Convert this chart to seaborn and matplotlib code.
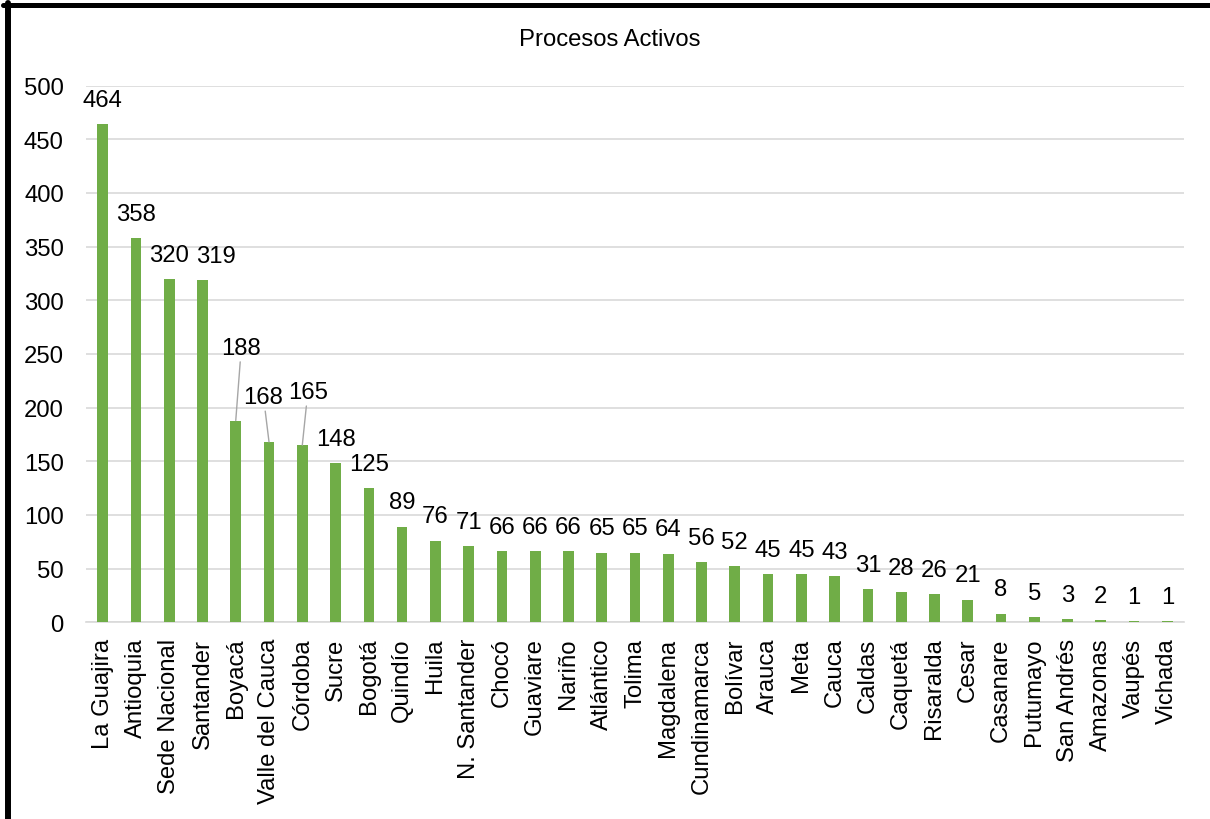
import pandas as pd
import seaborn as sns
import matplotlib.pyplot as plt
from matplotlib.lines import Line2D

# -----------------------------
# Data
# -----------------------------
departamentos = ["La Guajira", "Antioquia", "Sede Nacional", "Santander", "Boyacá",
                 "Valle del Cauca", "Córdoba", "Sucre", "Bogotá", "Quindío", "Huila",
                 "N. Santander", "Chocó", "Guaviare", "Nariño", "Atlántico", "Tolima",
                 "Magdalena", "Cundinamarca", "Bolívar", "Arauca", "Meta", "Cauca",
                 "Caldas", "Caquetá", "Risaralda", "Cesar", "Casanare", "Putumayo",
                 "San Andrés", "Amazonas", "Vaupés", "Vichada"]
procesos = [464, 358, 320, 319, 188, 168, 165, 148, 125, 89, 76, 71, 66, 66, 66, 65,
            65, 64, 56, 52, 45, 45, 43, 31, 28, 26, 21, 8, 5, 3, 2, 1, 1]
y_ticks = [0, 50, 100, 150, 200, 250, 300, 350, 400, 450, 500]

df = pd.DataFrame({"Departamento": departamentos, "Procesos": procesos})

# label offsets (points) for labels Excel moved away from the default spot
label_shift = {"Santander": (10, 0), "Boyacá": (4, -35), "Valle del Cauca": (-4, -15),
               "Córdoba": (4, -21)}
leader = {"Boyacá", "Valle del Cauca", "Córdoba"}

# -----------------------------
# Style
# -----------------------------
sns.set_style("white")
plt.rcParams["font.family"] = ["Liberation Sans", "DejaVu Sans"]
plt.rcParams["text.color"] = "black"
plt.rcParams["xtick.color"] = "black"
plt.rcParams["ytick.color"] = "black"
FS = 17.2
GREEN = "#70ad47"
GRID = "#d9d9d9"

fig = plt.figure(figsize=(12.1, 8.2), dpi=100)
ax = fig.add_axes([0.0711, 0.2399, 0.9074, 0.6544])

sns.barplot(data=df, x="Departamento", y="Procesos", color=GREEN, width=0.32,
            saturation=1, linewidth=0, ax=ax, zorder=3)

ax.set_ylim(0, 500)
ax.set_xlim(-0.5, len(departamentos) - 0.5)
ax.set_yticks(y_ticks)
ax.set_yticklabels([str(t) for t in y_ticks], fontsize=FS)
ax.set_xticks(range(len(departamentos)))
ax.set_xticklabels(departamentos, rotation=90, fontsize=FS)
ax.tick_params(axis="y", length=0, pad=16)
ax.tick_params(axis="x", length=0, pad=11)
ax.set_xlabel("")
ax.set_ylabel("")
ax.grid(axis="y", color=GRID, lw=1.2, zorder=0)
for s in ["top", "right", "left"]:
    ax.spines[s].set_visible(False)
ax.spines["bottom"].set_color(GRID)
ax.spines["bottom"].set_linewidth(1.2)
ax.spines["bottom"].set_zorder(1)

# data labels
for i, (name, val) in enumerate(zip(departamentos, procesos)):
    dx, dy = label_shift.get(name, (0, 0))
    props = None
    if name in leader:
        props = dict(arrowstyle="-", color="#a6a6a6", lw=1, shrinkA=0, shrinkB=0)
    ax.annotate(str(val), xy=(i, val), xytext=(dx, 17.5 - dy),
                textcoords="offset points", ha="center", va="center",
                fontsize=FS, arrowprops=props, zorder=4)

fig.text(0.504, 0.951, "Procesos Activos", ha="center", va="center", fontsize=FS)

# black frame (top and left edges of the cropped chart border)
fig.add_artist(Line2D([3 / 1210, 1.0], [1 - 5.8 / 820, 1 - 5.8 / 820],
                      transform=fig.transFigure, color="black", lw=3.6))
fig.add_artist(Line2D([8 / 1210, 8 / 1210], [0.0, 1 - 3.5 / 820],
                      transform=fig.transFigure, color="black", lw=4.3))

fig.savefig("out.png", dpi=100)
